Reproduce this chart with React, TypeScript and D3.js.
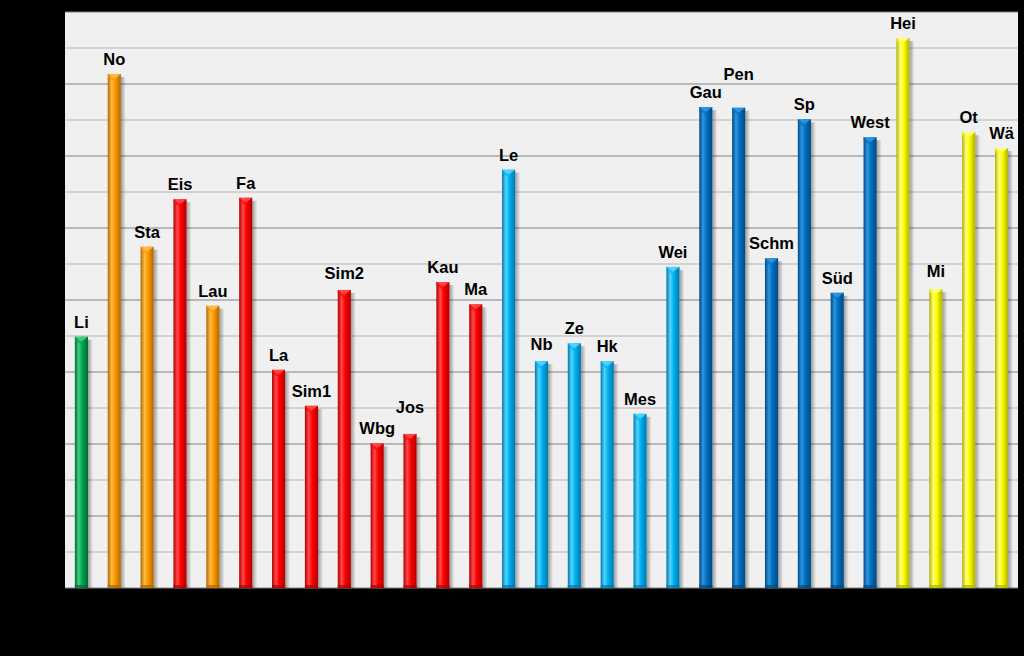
import React from "react";
import * as d3 from "d3";

const categories = ["Li","No","Sta","Eis","Lau","Fa","La","Sim1","Sim2","Wbg","Jos","Kau","Ma","Le","Nb","Ze","Hk","Mes","Wei","Gau","Pen","Schm","Sp","Süd","West","Hei","Mi","Ot","Wä"];
const values = [34.9,71.4,47.4,54.0,39.2,54.2,30.3,25.3,41.4,20.1,21.4,42.5,39.4,58.1,31.5,34.0,31.5,24.2,44.6,66.8,66.7,45.8,65.1,41.0,62.6,76.4,41.5,63.3,61.1];
const groups = ["green","orange","orange","red","orange","red","red","red","red","red","red","red","red","lblue","lblue","lblue","lblue","lblue","lblue","dblue","dblue","dblue","dblue","dblue","dblue","yellow","yellow","yellow","yellow"];
const labelRaise = [0,0,0,0,0,0,0,0,2,0,12,0,0,0,2,0,0,0,0,0,19,0,0,0,0,0,3,0,0];
const yTicks = [0,5,10,15,20,25,30,35,40,45,50,55,60,65,70,75,80];

const palette: Record<string, { base: string; light: string; dark: string }> = {
  green: { base: "#00a650", light: "#3fd07f", dark: "#006b33" },
  orange: { base: "#ff9900", light: "#ffbb44", dark: "#b06800" },
  red: { base: "#ff0000", light: "#ff4a4a", dark: "#b00000" },
  lblue: { base: "#00b0f0", light: "#55d4ff", dark: "#0078ac" },
  dblue: { base: "#0070c0", light: "#2f95e0", dark: "#004a82" },
  yellow: { base: "#ffff00", light: "#ffff80", dark: "#b0b000" },
};

export default function App() {
  const W = 1024, H = 656;
  const left = 65, right = 1018, top = 12, bottom = 588;
  const x = d3.scaleBand<string>().domain(categories).range([left, right]).paddingInner(0.6).paddingOuter(0.3);
  const y = d3.scaleLinear().domain([0, 80]).range([bottom, top]);
  const bw = x.bandwidth();

  return (
    <svg width={W} height={H} style={{ position: "absolute", left: 0, top: 0 }}>
      <defs>
        {Object.entries(palette).map(([k, c]) => (
          <linearGradient key={k} id={"g-" + k} x1="0" x2="1" y1="0" y2="0">
            <stop offset="0" stopColor={c.dark} />
            <stop offset="0.3" stopColor={c.light} />
            <stop offset="0.55" stopColor={c.base} />
            <stop offset="1" stopColor={c.dark} />
          </linearGradient>
        ))}
        <linearGradient id="shadow" x1="0" x2="1" y1="0" y2="0">
          <stop offset="0" stopColor="#000" stopOpacity={0.35} />
          <stop offset="1" stopColor="#000" stopOpacity={0} />
        </linearGradient>
      </defs>
      <rect x={0} y={0} width={W} height={H} fill="#000" />
      <rect x={left} y={top} width={right - left} height={bottom - top} fill="#f0f0f0" />
      {yTicks.map((t, i) => (
        <line key={t} x1={left} x2={right} y1={y(t)} y2={y(t)}
          stroke={i % 2 === 0 ? "#808080" : "#b4b4b4"} strokeWidth={1} />
      ))}
      {categories.map((c, i) => {
        const x0 = x(c)!;
        const yt = y(values[i]);
        const g = groups[i];
        const col = palette[g];
        const cx = x0 + bw / 2;
        return (
          <g key={c}>
            <rect x={x0 + bw} y={yt + 3} width={5} height={bottom - yt - 3} fill="url(#shadow)" />
            <rect x={x0} y={yt} width={bw} height={bottom - yt} fill={`url(#g-${g})`} />
            <path d={`M${x0},${yt} L${x0 + bw},${yt} L${cx},${yt + 5} Z`} fill={col.light} opacity={0.9} />
            <path d={`M${x0},${yt} L${cx},${yt + 5} L${cx},${yt + 8} L${x0},${yt + 3} Z`} fill={col.base} opacity={0.6} />
            <rect x={x0} y={bottom - 3} width={bw} height={3} fill={col.dark} opacity={0.7} />
            <text x={cx} y={yt - 9 - labelRaise[i]} textAnchor="middle"
              fontFamily="Liberation Sans, Arial, sans-serif" fontWeight="bold" fontSize={16.5} fill="#000">
              {c}
            </text>
          </g>
        );
      })}
    </svg>
  );
}
